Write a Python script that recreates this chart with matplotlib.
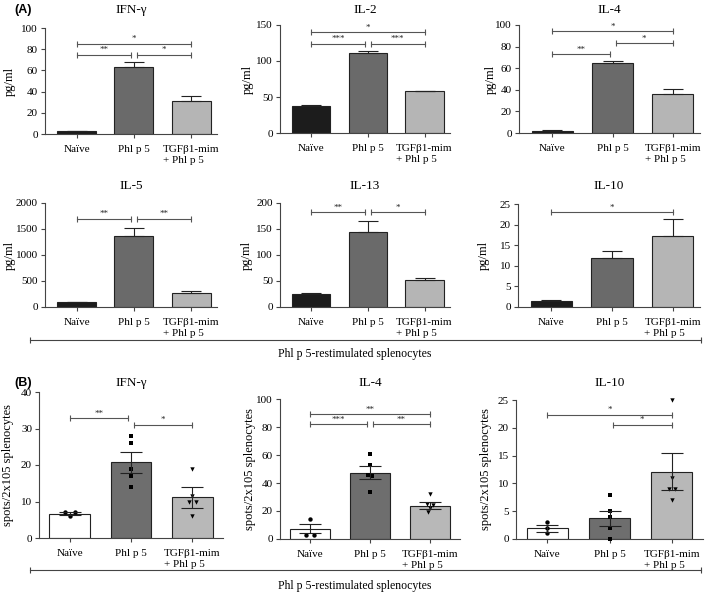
import matplotlib
matplotlib.use("Agg")
import matplotlib.pyplot as plt
import numpy as np

# ------ data ------
groups = ["Naïve", "Phl p 5", "TGFβ1-mim\n+ Phl p 5"]

# panel A: cytokines in supernatant (mean, upper error)
ifng_mean = [2.5, 63.0, 31.0]
ifng_err = [0.5, 4.5, 4.5]
il2_mean = [38.0, 111.0, 58.0]
il2_err = [1.0, 3.0, 1.0]
il4_mean = [2.0, 65.0, 36.0]
il4_err = [0.5, 1.5, 5.0]
il5_mean = [95.0, 1360.0, 275.0]
il5_err = [8.0, 150.0, 25.0]
il13_mean = [25.0, 145.0, 51.0]
il13_err = [2.0, 20.0, 5.0]
il10_mean = [1.4, 12.0, 17.3]
il10_err = [0.4, 1.5, 4.0]

# panel B: ELISpot (mean, SEM, single animals)
b_ifng_mean = [6.6, 20.7, 11.1]
b_ifng_sem = [0.4, 2.8, 2.8]
b_ifng_pts = [[7.0, 6.0, 7.0], [28, 26, 19, 17, 14], [19, 11.5, 10, 10, 6]]
b_il4_mean = [7.3, 47.5, 23.8]
b_il4_sem = [3.3, 4.6, 2.5]
b_il4_pts = [[14, 3, 3], [61, 53, 46, 45, 33.5], [32, 25, 24, 22, 19]]
b_il10_mean = [1.9, 3.7, 12.1]
b_il10_sem = [0.6, 1.4, 3.3]
b_il10_pts = [[3, 2, 1], [8, 5, 4, 2, 0], [25, 11, 9, 9, 7]]

# significance brackets: (group1, group2, height, stars)
ifng_sig = [(0, 2, 85, "*"), (0, 1, 75, "**"), (1, 2, 75, "*")]
il2_sig = [(0, 2, 140, "*"), (0, 1, 124, "***"), (1, 2, 124, "***")]
il4_sig = [(0, 2, 94, "*"), (1, 2, 83, "*"), (0, 1, 73, "**")]
il5_sig = [(0, 1, 1700, "**"), (1, 2, 1700, "**")]
il13_sig = [(0, 1, 182, "**"), (1, 2, 182, "*")]
il10_sig = [(0, 2, 23, "*")]
b_ifng_sig = [(0, 1, 32.8, "**"), (1, 2, 31, "*")]
b_il4_sig = [(0, 2, 89, "**"), (0, 1, 82, "***"), (1, 2, 82, "**")]
b_il10_sig = [(0, 2, 22.3, "*"), (1, 2, 20.5, "*")]

# ------ style ------
plt.rcParams['font.family'] = ['Liberation Serif', 'DejaVu Serif']
plt.rcParams['font.size'] = 8

W, H = 709, 593
fig = plt.figure(figsize=(W / 100, H / 100), dpi=100)

colA = ['#1c1c1c', '#6a6a6a', '#b5b5b5']
colB = ['#ffffff', '#6e6e6e', '#b8b8b8']
markers = ['o', 's', 'v']
axcol = '#444444'


def px_axes(l, r, t, b):
    return fig.add_axes([l / W, 1 - b / H, (r - l) / W, (b - t) / H])


def style(ax, box, title, ty, ylx, ymax, ystep, ylabel, xlim):
    ax.set_xlim(*xlim)
    ax.set_ylim(0, ymax)
    ax.set_yticks(np.arange(0, ymax + ystep / 2, ystep))
    ax.set_xticks([0, 1, 2])
    ax.set_xticklabels(groups, multialignment='left')
    for s in ['top', 'right']:
        ax.spines[s].set_visible(False)
    for s in ['left', 'bottom']:
        ax.spines[s].set_color(axcol)
        ax.spines[s].set_linewidth(0.8)
    ax.tick_params(axis='both', length=3, width=0.8, color=axcol, labelsize=8, pad=2)
    ax.tick_params(axis='x', pad=5)
    for lab in ax.get_xticklabels():
        lab.set_horizontalalignment('center')
    # panel title and y label placed in figure pixels
    fig.text((box[0] + box[1]) / 2 / W, 1 - ty / H, title, ha='center', va='center',
             fontsize=9.5)
    fig.text(ylx / W, 1 - (box[2] + box[3]) / 2 / H, ylabel, rotation=90,
             ha='center', va='center', fontsize=9)


def brackets(ax, sig):
    for g1, g2, y, txt in sig:
        a = g1 + (0.05 if g1 == 1 else 0)
        b = g2 - (0.05 if g2 == 1 else 0)
        ax.plot([a, b], [y, y], color='#555555', lw=0.8, marker='|', ms=5,
                mew=0.8, clip_on=False)
        ax.annotate(txt, ((a + b) / 2, y), xytext=(0, 0.5), textcoords='offset points',
                    ha='center', va='bottom', fontsize=6.5, color='#222222')


def panel_a(box, title, ty, ylx, mean, err, sig, ymax, ystep):
    ax = px_axes(*box)
    x = np.arange(3)
    ax.bar(x, mean, width=0.68, color=colA, edgecolor='#222222', lw=0.8, zorder=2)
    ax.errorbar(x, mean, yerr=[[0, 0, 0], err], fmt='none', ecolor='#222222',
                elinewidth=0.8, capsize=7, capthick=0.8, zorder=3)
    style(ax, box, title, ty, ylx, ymax, ystep, 'pg/ml', (-0.55, 2.45))
    brackets(ax, sig)
    return ax


offsets = {
    'ifng': [[-0.08, 0.0, 0.08], [0, 0, 0, 0, 0], [0, 0, -0.06, 0.06, 0]],
    'il4': [[0, -0.07, 0.07], [0, 0, -0.04, 0.04, 0], [0, -0.05, 0.05, 0, -0.03]],
    'il10': [[0, 0, 0], [0, 0, 0, 0, 0], [0, 0, -0.05, 0.05, 0]],
}


def panel_b(box, title, ty, ylx, mean, sem, pts, offs, sig, ymax, ystep):
    ax = px_axes(*box)
    x = np.arange(3)
    ax.bar(x, mean, width=0.66, color=colB, edgecolor='#222222', lw=0.8, zorder=2)
    for i in range(3):
        ax.scatter(i + np.array(offs[i]), pts[i], marker=markers[i], s=10,
                   color='black', zorder=4, lw=0, clip_on=False)
    ax.errorbar(x, mean, yerr=sem, fmt='none', ecolor='#222222',
                elinewidth=0.8, capsize=8, capthick=0.8, zorder=5)
    style(ax, box, title, ty, ylx, ymax, ystep, 'spots/2x105 splenocytes', (-0.5, 2.5))
    brackets(ax, sig)
    return ax


panel_a((45, 217, 28, 134), 'IFN-γ', 10, 10, ifng_mean, ifng_err, ifng_sig, 100, 20)
panel_a((280, 450, 25, 133), 'IL-2', 10, 248, il2_mean, il2_err, il2_sig, 150, 50)
panel_a((519, 700, 25, 133), 'IL-4', 10, 491, il4_mean, il4_err, il4_sig, 100, 20)
panel_a((45, 217, 203, 307), 'IL-5', 186, 10, il5_mean, il5_err, il5_sig, 2000, 500)
panel_a((280, 450, 203, 307), 'IL-13', 186, 247, il13_mean, il13_err, il13_sig, 200, 50)
panel_a((518, 700, 204, 307), 'IL-10', 186, 484, il10_mean, il10_err, il10_sig, 25, 5)

panel_b((39, 223, 392, 538), 'IFN-γ', 383, 8, b_ifng_mean, b_ifng_sem, b_ifng_pts,
        offsets['ifng'], b_ifng_sig, 40, 10)
panel_b((280, 460, 399, 539), 'IL-4', 383, 250, b_il4_mean, b_il4_sem, b_il4_pts,
        offsets['il4'], b_il4_sig, 100, 20)
panel_b((516, 703, 400, 539), 'IL-10', 383, 486, b_il10_mean, b_il10_sem, b_il10_pts,
        offsets['il10'], b_il10_sig, 25, 5)

# long brackets under each block
for yl, yt in [(340, 354), (570, 586)]:
    fig.add_artist(plt.Line2D([30 / W, 701 / W], [1 - yl / H] * 2, color='#444444',
                              lw=0.8, marker='|', ms=5, mew=0.8))
    fig.text(355 / W, 1 - yt / H, 'Phl p 5-restimulated splenocytes', ha='center',
             va='center', fontsize=8.5)

fig.text(14 / W, 1 - 10 / H, '(A)', fontsize=9, fontweight='bold',
         family='Liberation Sans', va='center')
fig.text(14 / W, 1 - 383 / H, '(B)', fontsize=9, fontweight='bold',
         family='Liberation Sans', va='center')

fig.savefig('out.png', dpi=100)
